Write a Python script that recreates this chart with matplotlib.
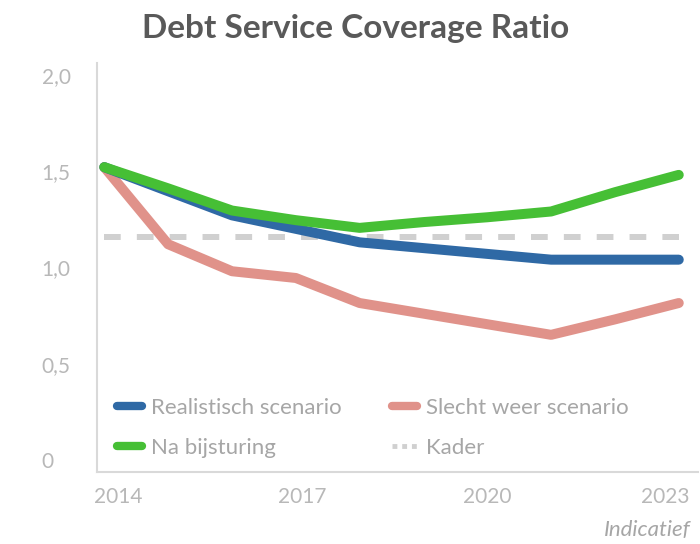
import matplotlib.pyplot as plt
from matplotlib.lines import Line2D
from matplotlib.transforms import ScaledTranslation

years = [2014, 2015, 2016, 2017, 2018, 2019, 2020, 2021, 2022, 2023]
realistisch = [1.52, 1.395, 1.27, 1.20, 1.13, 1.10, 1.07, 1.04, 1.04, 1.04]
slecht_weer = [1.52, 1.12, 0.98, 0.945, 0.815, 0.76, 0.705, 0.65, 0.73, 0.815]
na_bijsturing = [1.52, 1.41, 1.295, 1.245, 1.205, 1.235, 1.26, 1.29, 1.39, 1.48]
kader = 1.16

xticks = [2014, 2017, 2020, 2023]
yticks = [0, 0.5, 1.0, 1.5, 2.0]
ytick_labels = ["0", "0,5", "1,0", "1,5", "2,0"]

c_blue = "#2f69a5"
c_red = "#e0928a"
c_green = "#46bf35"
c_kader = "#d0d0d0"
c_tick = "#b8b8b8"
c_text = "#a6a6a6"

plt.rcParams["font.family"] = ["Lato", "DejaVu Sans"]

fig = plt.figure(figsize=(7.0, 5.44), dpi=100)
ax = fig.add_axes([0.139, 0.133, 0.858, 0.751])

lw = 7.2
ax.plot(years, [kader] * len(years), color=c_kader, lw=4.3,
        dashes=(2.8, 2.7), dash_capstyle="butt", zorder=1)
ax.plot(years, slecht_weer, color=c_red, lw=lw, solid_capstyle="round",
        solid_joinstyle="round", zorder=2)
ax.plot(years, realistisch, color=c_blue, lw=lw, solid_capstyle="round",
        solid_joinstyle="round", zorder=3)
ax.plot(years, na_bijsturing, color=c_green, lw=lw, solid_capstyle="round",
        solid_joinstyle="round", zorder=4)

ax.set_xlim(2013.89, 2023.3)
ax.set_ylim(-0.06, 2.06)
ax.set_xticks(xticks)
ax.set_xticklabels([str(x) for x in xticks])
ax.set_yticks(yticks)
ax.set_yticklabels(ytick_labels)
ax.tick_params(axis="both", length=0, labelsize=15, colors=c_tick)
ax.tick_params(axis="x", pad=11)
ax.tick_params(axis="y", pad=40)
for lab in ax.get_yticklabels():
    lab.set_ha("left")

# edge year labels sit a bit inward like the original
xl = ax.get_xticklabels()
xl[0].set_transform(xl[0].get_transform() + ScaledTranslation(14 / 100, 0, fig.dpi_scale_trans))
xl[-1].set_transform(xl[-1].get_transform() + ScaledTranslation(-14 / 100, 0, fig.dpi_scale_trans))
xl[1].set_transform(xl[1].get_transform() + ScaledTranslation(6 / 100, 0, fig.dpi_scale_trans))

for s in ["top", "right"]:
    ax.spines[s].set_visible(False)
for s in ["left", "bottom"]:
    ax.spines[s].set_color("#d9d9d9")
    ax.spines[s].set_linewidth(1.5)

handles = [
    Line2D([], [], color=c_blue, lw=6, solid_capstyle="round"),
    Line2D([], [], color=c_red, lw=6, solid_capstyle="round"),
    Line2D([], [], color=c_green, lw=6, solid_capstyle="round"),
    Line2D([], [], color=c_kader, lw=3.5, dashes=(1, 1), dash_capstyle="butt"),
]
labels = ["Realistisch scenario", "Slecht weer scenario", "Na bijsturing", "Kader"]
# reorder for two columns (row-wise reading)
order = [0, 2, 1, 3]
leg = ax.legend([handles[i] for i in order], [labels[i] for i in order],
                ncol=2, loc="lower left", bbox_to_anchor=(0.0, -0.016),
                frameon=False, fontsize=16, labelcolor=c_text,
                handlelength=1.1, handletextpad=0.4, columnspacing=2.3,
                labelspacing=0.9)

fig.text(0.508, 0.948, "Debt Service Coverage Ratio", ha="center", va="center",
         fontsize=24, fontweight="bold", color="#595959")
fig.text(0.986, 0.025, "Indicatief", ha="right", va="center",
         fontsize=16, style="italic", color=c_text)

fig.savefig("out.png", dpi=100)
